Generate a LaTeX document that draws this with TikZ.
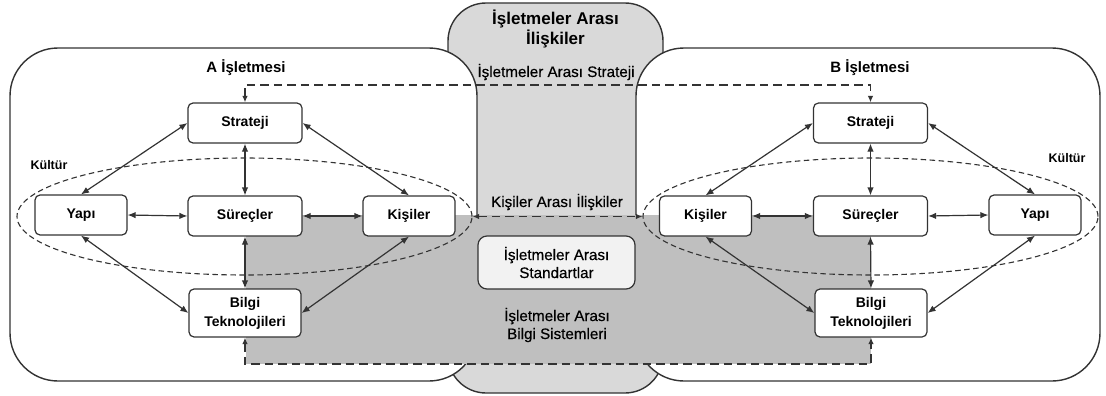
\documentclass[tikz,border=0pt]{standalone}
\usepackage{fontspec}
\setmainfont{Liberation Sans}
\newfontfamily\notefont[FakeBold=0.4]{Liberation Sans}
\usetikzlibrary{arrows.meta,shapes.geometric}
\definecolor{paneGray}{HTML}{D9D9D9}
\definecolor{linkGray}{HTML}{BFBFBF}
\definecolor{stdFill}{HTML}{F2F2F2}
\definecolor{ink}{HTML}{333333}

\begin{document}
\begin{tikzpicture}[x=1pt,y=-1pt,
  firm/.style={draw=ink, line width=1.4pt, fill=white, rounded corners=48pt},
  unit/.style={draw=ink, line width=1.2pt, fill=white, rounded corners=5pt,
    inner sep=0pt, align=center, font=\fontsize{14}{19}\selectfont\bfseries},
  culture/.style={ellipse, draw=ink, line width=1.1pt,
    dash pattern=on 5.5pt off 3.5pt, inner sep=0pt},
  rel/.style={draw=ink, line width=1.2pt, >={Latex[length=8pt,width=6.5pt]}, <->},
  link/.style={draw=ink, line width=1.9pt, dash pattern=on 8.5pt off 5pt,
    >={Latex[length=6.5pt,width=5.5pt]}, <->},
  heading/.style={font=\fontsize{17}{20}\selectfont\bfseries, align=center},
  firmtitle/.style={font=\fontsize{15}{18}\selectfont\bfseries},
  note/.style={font=\notefont\fontsize{15.2}{18}\selectfont, align=center},
  tag/.style={font=\fontsize{12.5}{14}\selectfont\bfseries},
]
\useasboundingbox (0,0) rectangle (1106,396);

% shared area between the two firms
\draw[draw=ink, line width=1.4pt, fill=paneGray, rounded corners=38pt]
  (448,3) rectangle (663,393);

% the two firms
\draw[firm] (10,48) rectangle (477,381);
\draw[firm] (636,48) rectangle (1100,381);

% information-systems band linking both firms
\fill[linkGray] (246,215) rectangle (871,364);

% titles and labels
\node[heading] (relTitle) at (555.5,29) {İşletmeler Arası\\İlişkiler};
\node[firmtitle] (aTitle) at (246,68) {A İşletmesi};
\node[firmtitle] (bTitle) at (870,68) {B İşletmesi};
\node[note] (stratLbl) at (556,72) {İşletmeler Arası Strateji};
\node[note] (peopleLbl) at (557,202) {Kişiler Arası İlişkiler};
\node[note] (isLbl) at (557,325) {İşletmeler Arası\\Bilgi Sistemleri};
\node[draw=ink, line width=1.2pt, fill=stdFill, rounded corners=9pt,
  minimum width=157pt, minimum height=53pt, inner sep=0pt, note] (std)
  at (556.5,262.5) {İşletmeler Arası\\Standartlar};
\node[tag] (aCultLbl) at (49,165) {Kültür};
\node[tag] (bCultLbl) at (1067,158) {Kültür};

% culture ellipses
\node[culture, minimum width=455pt, minimum height=117pt] (aCult) at (244.5,216.5) {};
\node[culture, minimum width=455pt, minimum height=117pt] (bCult) at (870.5,216.5) {};

% firm A components
\node[unit, minimum width=114pt, minimum height=40pt] (aStr) at (245,123) {Strateji};
\node[unit, minimum width=114pt, minimum height=40pt] (aSur) at (245,216) {Süreçler};
\node[unit, minimum width=92pt, minimum height=40pt] (aYap) at (81,215) {Yapı};
\node[unit, minimum width=92pt, minimum height=40pt] (aKis) at (409,216) {Kişiler};
\node[unit, minimum width=112pt, minimum height=48pt] (aBil) at (245,313) {Bilgi\\Teknolojileri};

% firm B components
\node[unit, minimum width=114pt, minimum height=40pt] (bStr) at (870.5,123) {Strateji};
\node[unit, minimum width=114pt, minimum height=40pt] (bSur) at (870.5,216) {Süreçler};
\node[unit, minimum width=92pt, minimum height=40pt] (bKis) at (705.5,216) {Kişiler};
\node[unit, minimum width=92pt, minimum height=40pt] (bYap) at (1035,215) {Yapı};
\node[unit, minimum width=112pt, minimum height=48pt] (bBil) at (871,313) {Bilgi\\Teknolojileri};

% inter-firm links
\coordinate (topRun) at (555,85);
\coordinate (botRun) at (555,364);
\draw[link] (aStr.north) |- (topRun) -| (bStr.north);
\draw[link] (aBil.south) |- (botRun) -| (bBil.south);
\draw[link] (aCult.east) -- (bCult.west);

% relations inside firm A
\draw[rel] (aStr.west) -- (aYap.north);
\draw[rel] (aStr.east) -- (aKis.north);
\draw[rel] (aStr.south) -- (aSur.north);
\draw[rel] (aYap.east) -- (aSur.west);
\draw[rel] (aSur.east) -- (aKis.west);
\draw[rel] (aSur.south) -- (aBil.north);
\draw[rel] (aYap.south) -- (aBil.west);
\draw[rel] (aKis.south) -- (aBil.east);

% relations inside firm B
\draw[rel] (bStr.west) -- (bKis.north);
\draw[rel] (bStr.east) -- (bYap.north);
\draw[rel] (bStr.south) -- (bSur.north);
\draw[rel] (bKis.east) -- (bSur.west);
\draw[rel] (bSur.east) -- (bYap.west);
\draw[rel] (bSur.south) -- (bBil.north);
\draw[rel] (bKis.south) -- (bBil.west);
\draw[rel] (bYap.south) -- (bBil.east);
\end{tikzpicture}
\end{document}
